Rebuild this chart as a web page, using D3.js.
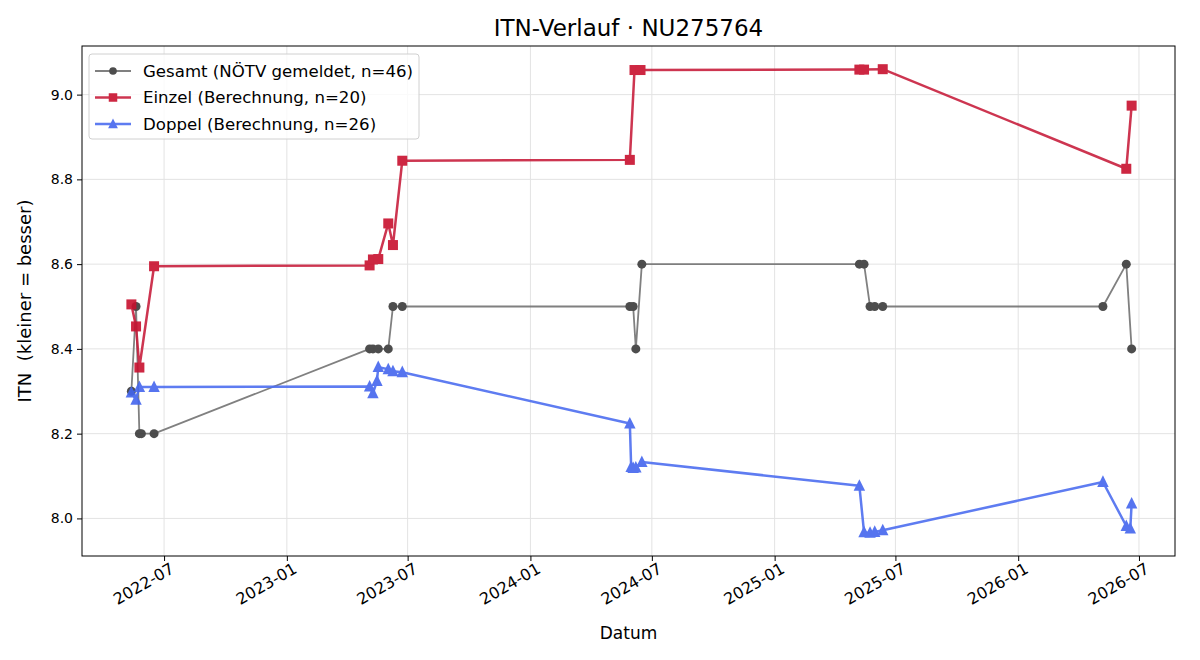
<!DOCTYPE html>
<html>
<head>
<meta charset="utf-8">
<title>ITN-Verlauf</title>
<script src="https://d3js.org/d3.v7.min.js"></script>
<style>
  body { margin: 0; background: #fff; }
  svg { font-family: "DejaVu Sans", sans-serif; }
  .grid line { stroke: #e3e3e3; }
</style>
</head>
<body>
<svg width="1200" height="660"></svg>
<script>
// Gesamt (NÖTV gemeldet)
var gesamtDates = ["2022-05-13","2022-05-20","2022-05-25","2022-05-28","2022-06-16",
  "2023-05-05","2023-05-10","2023-05-18","2023-06-02","2023-06-09","2023-06-23",
  "2024-05-29","2024-06-03","2024-06-07","2024-06-16",
  "2025-05-08","2025-05-15","2025-05-24","2025-05-31","2025-06-12",
  "2026-05-08","2026-06-12","2026-06-20"];
var gesamtValues = [8.3,8.5,8.2,8.2,8.2, 8.4,8.4,8.4,8.4,8.5,8.5, 8.5,8.5,8.4,8.6,
  8.6,8.6,8.5,8.5,8.5, 8.5,8.6,8.4];

// Einzel (Berechnung)
var einzelDates = ["2022-05-13","2022-05-20","2022-05-25","2022-06-16",
  "2023-05-05","2023-05-10","2023-05-18","2023-06-02","2023-06-09","2023-06-23",
  "2024-05-29","2024-06-05","2024-06-14",
  "2025-05-08","2025-05-15","2025-06-12",
  "2026-06-12","2026-06-20"];
var einzelValues = [8.505,8.453,8.356,8.595, 8.597,8.611,8.612,8.696,8.645,8.844,
  8.846,9.058,9.058, 9.059,9.059,9.060, 8.825,8.974];

// Doppel (Berechnung)
var doppelDates = ["2022-05-13","2022-05-20","2022-05-25","2022-06-16",
  "2023-05-05","2023-05-10","2023-05-16","2023-05-18","2023-06-02","2023-06-09","2023-06-23",
  "2024-05-29","2024-05-31","2024-06-03","2024-06-07","2024-06-16",
  "2025-05-08","2025-05-15","2025-05-24","2025-05-31","2025-06-12",
  "2026-05-08","2026-06-12","2026-06-18","2026-06-20"];
var doppelValues = [8.297,8.28,8.31,8.31, 8.311,8.295,8.324,8.357,8.352,8.347,8.345,
  8.224,8.121,8.119,8.12,8.133, 8.077,7.967,7.966,7.968,7.972, 8.086,7.982,7.976,8.035];

var yTicks = [8.0, 8.2, 8.4, 8.6, 8.8, 9.0];
var xRange = ["2022-02-28", "2026-08-24"];

var svg = d3.select("svg"),
    margin = {top: 46, right: 25, bottom: 104, left: 82},
    width = 1200 - margin.left - margin.right,
    height = 660 - margin.top - margin.bottom;

var parse = d3.timeParse("%Y-%m-%d");
function toPoints(dates, vals) {
  return dates.map(function(d, i) { return {date: parse(d), value: vals[i]}; });
}
var series = [
  {name: "Gesamt (NÖTV gemeldet, n=46)", data: toPoints(gesamtDates, gesamtValues),
   line: "#737373", fill: "#3a3a3a", width: 1.8, marker: "circle", opacity: 0.9},
  {name: "Einzel (Berechnung, n=20)", data: toPoints(einzelDates, einzelValues),
   line: "#c8203e", fill: "#c8102e", width: 2.5, marker: "square", opacity: 0.9},
  {name: "Doppel (Berechnung, n=26)", data: toPoints(doppelDates, doppelValues),
   line: "#4d6ef0", fill: "#4466ee", width: 2.5, marker: "triangle", opacity: 0.9}
];

var all = [].concat.apply([], series.map(function(s) { return s.data; }));
var yExt = d3.extent(all, function(d) { return d.value; });
var yPad = (yExt[1] - yExt[0]) * 0.05;

var x = d3.scaleTime()
    .domain(xRange.map(parse))
    .range([0, width]);
var y = d3.scaleLinear()
    .domain([yExt[0] - yPad, yExt[1] + yPad])
    .range([height, 0]);

var g = svg.append("g").attr("transform", "translate(" + margin.left + "," + margin.top + ")");

var xTickVals = x.ticks(d3.timeMonth.every(6));

// grid
g.append("g").attr("class", "grid")
  .selectAll("line").data(xTickVals).enter().append("line")
  .attr("x1", function(d) { return x(d); }).attr("x2", function(d) { return x(d); })
  .attr("y1", 0).attr("y2", height);
g.append("g").attr("class", "grid")
  .selectAll("line").data(yTicks).enter().append("line")
  .attr("x1", 0).attr("x2", width)
  .attr("y1", function(d) { return y(d); }).attr("y2", function(d) { return y(d); });

// axes
var xAxis = g.append("g").attr("transform", "translate(0," + height + ")")
  .call(d3.axisBottom(x).tickValues(xTickVals).tickFormat(d3.timeFormat("%Y-%m")).tickSizeOuter(0).tickSize(5));
var yAxis = g.append("g")
  .call(d3.axisLeft(y).tickValues(yTicks).tickFormat(d3.format(".1f")).tickSizeOuter(0).tickSize(5));
yAxis.selectAll("text").attr("x", -9);
g.selectAll(".domain").remove();
g.selectAll(".tick line").attr("stroke", "#000");
g.selectAll(".tick text").attr("font-size", 14).attr("font-family", "DejaVu Sans").attr("fill", "#000");
xAxis.selectAll("text")
  .attr("font-size", 16)
  .attr("text-anchor", "end")
  .attr("dy", "0.35em")
  .attr("transform", "translate(4,4) rotate(-30)");

g.append("rect").attr("width", width).attr("height", height)
  .attr("fill", "none").attr("stroke", "#000").attr("stroke-width", 1);

var line = d3.line().x(function(d) { return x(d.date); }).y(function(d) { return y(d.value); });

function drawMarker(sel, type, size) {
  if (type === "circle") {
    sel.append("circle").attr("r", size * 0.5);
  } else if (type === "square") {
    sel.append("rect").attr("x", -size / 2).attr("y", -size / 2).attr("width", size).attr("height", size);
  } else {
    var h = size * 1.0;
    sel.append("path").attr("d", "M0," + (-h * 0.6) + "L" + (h * 0.52) + "," + (h * 0.45) + "L" + (-h * 0.52) + "," + (h * 0.45) + "Z");
  }
}
var msize = {circle: 9, square: 10, triangle: 11};

series.forEach(function(s) {
  var sg = g.append("g").attr("opacity", s.opacity);
  sg.append("path").datum(s.data)
    .attr("d", line).attr("fill", "none")
    .attr("stroke", s.line).attr("stroke-width", s.width).attr("stroke-linejoin", "round");
  var m = sg.selectAll(".m").data(s.data).enter().append("g")
    .attr("transform", function(d) { return "translate(" + x(d.date) + "," + y(d.value) + ")"; })
    .attr("fill", s.fill);
  drawMarker(m, s.marker, msize[s.marker]);
});

// legend
var lg = g.append("g").attr("transform", "translate(7,8)");
lg.append("rect").attr("width", 330).attr("height", 85).attr("rx", 3)
  .attr("fill", "#fff").attr("fill-opacity", 0.8).attr("stroke", "#d0d0d0");
series.forEach(function(s, i) {
  var row = lg.append("g").attr("transform", "translate(0," + (17 + i * 26.5) + ")").attr("opacity", s.opacity);
  row.append("line").attr("x1", 6).attr("x2", 42).attr("stroke", s.line).attr("stroke-width", s.width);
  var mk = row.append("g").attr("transform", "translate(24,0)").attr("fill", s.fill);
  drawMarker(mk, s.marker, msize[s.marker] * 0.85);
  lg.append("text").attr("x", 54).attr("y", 17 + i * 26.5).attr("dy", "0.35em")
    .attr("font-size", 16.6).text(s.name);
});

// titles
svg.append("text").attr("x", margin.left + width / 2).attr("y", 36)
  .attr("text-anchor", "middle").attr("font-size", 23).text("ITN-Verlauf · NU275764");
svg.append("text").attr("x", margin.left + width / 2).attr("y", 639)
  .attr("text-anchor", "middle").attr("font-size", 17).text("Datum");
svg.append("text").attr("transform", "translate(31," + (margin.top + height / 2) + ") rotate(-90)")
  .attr("text-anchor", "middle").attr("font-size", 18).style("white-space", "pre")
  .text("ITN  (kleiner = besser)");
</script>
</body>
</html>
